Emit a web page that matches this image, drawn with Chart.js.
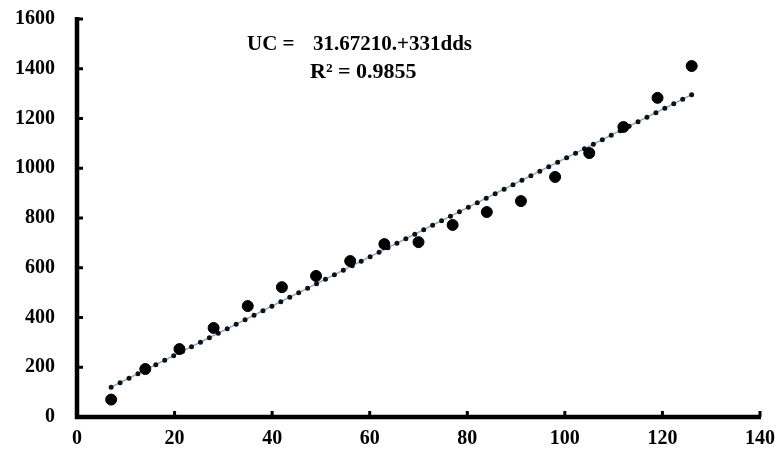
<!DOCTYPE html>
<html>
<head>
<meta charset="utf-8">
<script src="https://cdn.jsdelivr.net/npm/chart.js@4"></script>
<style>
  html, body { margin: 0; padding: 0; background: #fff; }
  #wrap { width: 777px; height: 455px; }
</style>
</head>
<body>
<div id="wrap"><canvas id="chart"></canvas></div>
<script>
// data
const xValues = [7, 14, 21, 28, 35, 42, 49, 56, 63, 70, 77, 84, 91, 98, 105, 112, 119, 126];
const yValues = [70, 193, 273, 358, 446, 522, 567, 627, 695, 703, 772, 824, 868, 965, 1061, 1166, 1283, 1411];
const trendX = [7, 126];
const trendY = [120, 1296];
const eqLeft = 'UC =';
const eqRight = '31.67210.+331dds';
const r2Text = 'R² = 0.9855';

const font = { family: '"Liberation Serif", "Times New Roman", serif', size: 20, weight: 'bold' };

const points = xValues.map((x, i) => ({ x: x, y: yValues[i] }));
const trend = trendX.map((x, i) => ({ x: x, y: trendY[i] }));

// thick axes with inward tick marks, plus the equation text
const extras = {
    id: 'extras',
    afterDraw(chart) {
        const ctx = chart.ctx;
        const xs = chart.scales.x, ys = chart.scales.y;
        const left = xs.getPixelForValue(0), right = xs.getPixelForValue(140);
        const bottom = ys.getPixelForValue(0), top = ys.getPixelForValue(1600);
        ctx.save();
        ctx.strokeStyle = '#000';
        ctx.lineWidth = 4.5;
        ctx.beginPath();
        ctx.moveTo(left, top - 2);
        ctx.lineTo(left, bottom);
        ctx.lineTo(right + 1, bottom);
        ctx.stroke();
        ctx.lineWidth = 3;
        xs.ticks.forEach(t => {
            const px = xs.getPixelForValue(t.value);
            ctx.beginPath();
            ctx.moveTo(px, bottom);
            ctx.lineTo(px, bottom - 6);
            ctx.stroke();
        });
        ys.ticks.forEach(t => {
            const py = ys.getPixelForValue(t.value);
            ctx.beginPath();
            ctx.moveTo(left, py);
            ctx.lineTo(left + 6, py);
            ctx.stroke();
        });
        ctx.fillStyle = '#000';
        ctx.font = 'bold 21px "Liberation Serif", serif';
        ctx.textBaseline = 'middle';
        ctx.textAlign = 'left';
        ctx.fillText(eqLeft, 247, 45);
        ctx.fillText(eqRight, 313, 45);
        ctx.font = 'bold 22px "Liberation Serif", serif';
        ctx.fillText(r2Text, 310, 72);
        ctx.restore();
    }
};

new Chart(document.getElementById('chart'), {
    type: 'scatter',
    data: {
        datasets: [
            {
                label: 'trend-blue',
                data: trend,
                showLine: true,
                borderColor: '#7ea9d8',
                borderWidth: 1.5,
                pointRadius: 0,
                order: 3
            },
            {
                label: 'trend-dots',
                data: trend,
                showLine: true,
                borderColor: '#111',
                borderWidth: 5,
                borderDash: [0, 10],
                borderCapStyle: 'round',
                pointRadius: 0,
                order: 2
            },
            {
                label: 'UC',
                data: points,
                backgroundColor: '#000',
                borderColor: '#000',
                pointRadius: 5.5,
                pointHoverRadius: 5.5,
                order: 1
            }
        ]
    },
    options: {
        responsive: true,
        maintainAspectRatio: false,
        animation: false,
        layout: { padding: { top: 19, right: 17, left: 0, bottom: 0 } },
        plugins: { legend: { display: false }, tooltip: { enabled: false } },
        scales: {
            x: {
                type: 'linear',
                min: 0, max: 140,
                ticks: { stepSize: 20, color: '#000', font: font, padding: 10, callback: v => String(v) },
                grid: { display: false, drawTicks: false },
                border: { display: false },
                afterFit(scale) {
                    scale.height = 38;
                    scale.paddingLeft = 0;
                    scale.paddingRight = 0;
                }
            },
            y: {
                min: 0, max: 1600,
                ticks: { stepSize: 200, color: '#000', font: font, padding: 22, callback: v => String(v) },
                grid: { display: false, drawTicks: false },
                border: { display: false },
                afterFit(scale) {
                    scale.width = 77;
                    scale.paddingTop = 0;
                    scale.paddingBottom = 0;
                }
            }
        }
    },
    plugins: [extras]
});
</script>
</body>
</html>
